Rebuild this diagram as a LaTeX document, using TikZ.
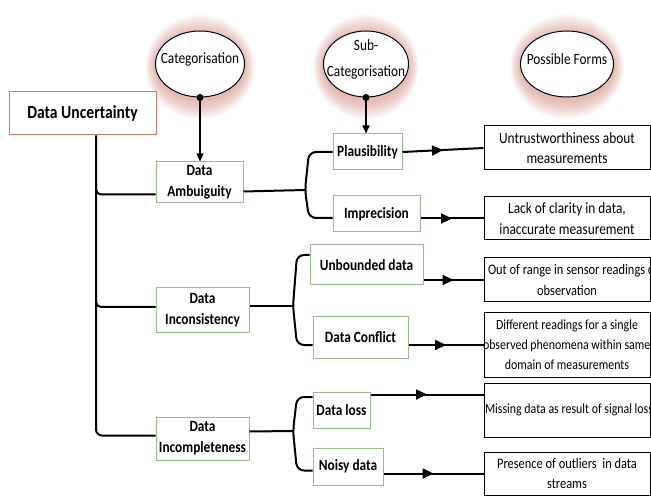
\documentclass[tikz,border=0pt]{standalone}
\usepackage{fontspec}
\setmainfont{Carlito}[FakeStretch=0.85]
\usetikzlibrary{shapes.geometric,arrows.meta,decorations.markings,calc}
\definecolor{glowc}{RGB}{200,110,95}
\definecolor{redb}{RGB}{215,120,100}
\definecolor{greenb}{RGB}{150,190,140}
\newcommand{\fcl}[1]{\makebox[160pt][c]{#1}}
\newcommand{\fll}[1]{\makebox[160pt][l]{#1}}
\tikzset{
 lbl/.style={font=\fontsize{15.7}{21}\selectfont\bfseries, align=center, draw=greenb, line width=1pt, fill=white, inner sep=0pt},
 formbox/.style={draw=black, line width=1pt, fill=white, font=\fontsize{15.7}{20.5}\selectfont, align=center, inner xsep=3pt, inner ysep=0pt, minimum width=166pt},
 hd/.style={ellipse, draw=black, line width=1pt, fill=white, inner sep=0pt},
 hdtxt/.style={font=\fontsize{15.7}{26}\selectfont, align=center, inner sep=0pt},
 conn/.style={line width=2pt},
 midarrow/.style={postaction={decorate}, decoration={markings, mark=at position 0.5 with {\arrow{Triangle[length=11pt,width=10pt]}}}},
 toparrow/.style={line width=1.5pt, -{Triangle[length=8pt,width=7pt]}},
}
\begin{document}
\begin{tikzpicture}[x=1pt,y=-1pt]
\useasboundingbox (0,0) rectangle (651,497);
\clip (0,0) rectangle (651,497);
\fill[white] (0,0) rectangle (651,497);
% glow
\coordinate (ccat) at (200,64);
\coordinate (csub) at (366,64);
\coordinate (cpf) at (567,64);
\foreach \p/\w in {ccat/44.5, csub/42.5, cpf/46.5}{
  \foreach \i in {1,...,10}{
    \fill[glowc, opacity=0.055] ($(\p)+(0,3)$) ellipse ({\w+\i*1.0} and {33+\i*1.9});
  }
}
% header ellipses
\node[hd, minimum width=89, minimum height=66] (cat) at (ccat) {};
\node[hd, minimum width=85, minimum height=66] (sub) at (csub) {};
\node[hd, minimum width=93, minimum height=66] (pf) at (cpf) {};
\node[hdtxt] (cattxt) at ($(cat.center)+(0,-5)$) {Categorisation};
\node[hdtxt] (subtxt) at ($(sub.center)+(0,-5)$) {Sub-\\Categorisation};
\node[hdtxt] (pftxt) at ($(pf.center)+(0,-5)$) {Possible Forms};
% root
\node[draw=redb, line width=1pt, fill=white, minimum width=147, minimum height=43, inner sep=0pt,
      font=\fontsize{18.4}{22}\selectfont\bfseries] (DU) at (82.5,113.5) {Data Uncertainty};
% categories
\node[lbl, minimum width=87, minimum height=41] (amb) at (199.5,182.5) {Data\\Ambuiguity};
\node[lbl, minimum width=93, minimum height=44] (inc) at (202.5,310) {Data\\Inconsistency};
\node[lbl, minimum width=93, minimum height=43] (incomp) at (202.5,438.5) {Data\\Incompleteness};
% sub-categories
\node[lbl, minimum width=69, minimum height=36] (plaus) at (367.5,152) {Plausibility};
\node[lbl, minimum width=87, minimum height=36] (impr) at (376.5,214) {Imprecision};
\node[lbl, minimum width=113, minimum height=40] (unb) at (366.5,265) {Unbounded data};
\node[lbl, minimum width=95, minimum height=42] (conf) at (360.5,337) {Data Conflict};
\node[lbl, minimum width=57, minimum height=36] (loss) at (341.5,410) {Data loss};
\node[lbl, minimum width=70, minimum height=37] (noisy) at (348,466.5) {Noisy data};
% forms
\node[formbox, minimum height=44] (untr) at (567,148) {\fcl{Untrustworthiness about}\\\fcl{measurements}};
\node[formbox, minimum height=43] (lack) at (567,218.5) {\fcl{Lack of clarity in data,}\\\fcl{inaccurate measurement}};
\node[formbox, minimum height=44, font=\fontsize{14.6}{20.5}\selectfont] (outr) at (567,280) {\fll{\hspace*{1pt}Out of range in sensor readings or}\\\fcl{observation}};
\node[formbox, minimum height=64, font=\fontsize{14}{20}\selectfont] (diff) at (567,345) {\fcl{Different readings for a single}\\\fll{\hspace*{-4pt}observed phenomena within same}\\\fcl{domain of measurements}};
\node[formbox, minimum height=54, font=\fontsize{14}{20}\selectfont] (miss) at (567,410) {\fll{\hspace*{-2pt}Missing data as result of signal loss}};
\node[formbox, minimum height=43, font=\fontsize{14.6}{20.5}\selectfont] (pres) at (567,473.5) {\fcl{Presence of outliers\ \ in data}\\\fcl{streams}};
% top arrows
\fill (cat.south) circle (3.5);
\fill (sub.south) circle (3.5);
\draw[toparrow] (cat.south) -- (cat.south |- amb.north);
\draw[toparrow] (sub.south) -- (sub.south |- plaus.north);
% trunk
\coordinate (trx) at (96,0);
\coordinate (ambin) at ($(amb.west)+(0,12)$);
\coordinate (incin) at ($(inc.west)+(0,-3)$);
\coordinate (incompin) at ($(incomp.west)+(0,-3)$);
\draw[conn, rounded corners=6] (DU.south -| trx) |- (incompin);
\draw[conn, rounded corners=5] (ambin -| trx) ++(0,-10) -- (ambin -| trx) -- (ambin);
\draw[conn, rounded corners=5] (incin -| trx) ++(0,-10) -- (incin -| trx) -- (incin);
% brace 1
\coordinate (t1) at (305,190);
\coordinate (imprin) at ($(impr.west)+(0,4)$);
\draw[conn] ($(amb.east)+(0,9)$) -- (t1);
\draw[conn, rounded corners=7] (plaus.west) -- ($(plaus.west -| t1)+(4,0)$) -- (t1) -- ($(imprin -| t1)+(4,0)$) -- (imprin);
% brace 2
\coordinate (t2) at (293,306);
\coordinate (unbin) at ($(unb.west)+(0,-10)$);
\coordinate (confin) at ($(conf.west)+(0,8)$);
\draw[conn] ($(inc.east)+(0,-4)$) -- (t2);
\draw[conn, rounded corners=7] (unbin) -- ($(unbin -| t2)+(4,0)$) -- (t2) -- ($(confin -| t2)+(4,0)$) -- (confin);
% brace 3
\coordinate (t3) at (293,431);
\coordinate (lossin) at ($(loss.west)+(0,-13)$);
\coordinate (noisyin) at ($(noisy.west)+(0,4)$);
\draw[conn] ($(incomp.east)+(0,-7)$) -- (t3);
\draw[conn, rounded corners=7] (lossin) -- ($(lossin -| t3)+(4,0)$) -- (t3) -- ($(noisyin -| t3)+(4,0)$) -- (noisyin);
% arrows to forms
\coordinate (lossout) at ($(loss.north east)+(0,3)$);
\draw[conn, midarrow] (plaus.east) -- (untr.west);
\draw[conn, midarrow] (impr.east |- lack.west) -- (lack.west);
\draw[conn, midarrow] (unb.east |- outr.west) -- (outr.west);
\draw[conn, midarrow] (conf.east |- diff.west) -- (diff.west);
\draw[conn, midarrow] (lossout) -- (lossout -| miss.west);
\draw[conn, midarrow] (noisy.east |- pres.west) -- (pres.west);
\end{tikzpicture}
\end{document}
